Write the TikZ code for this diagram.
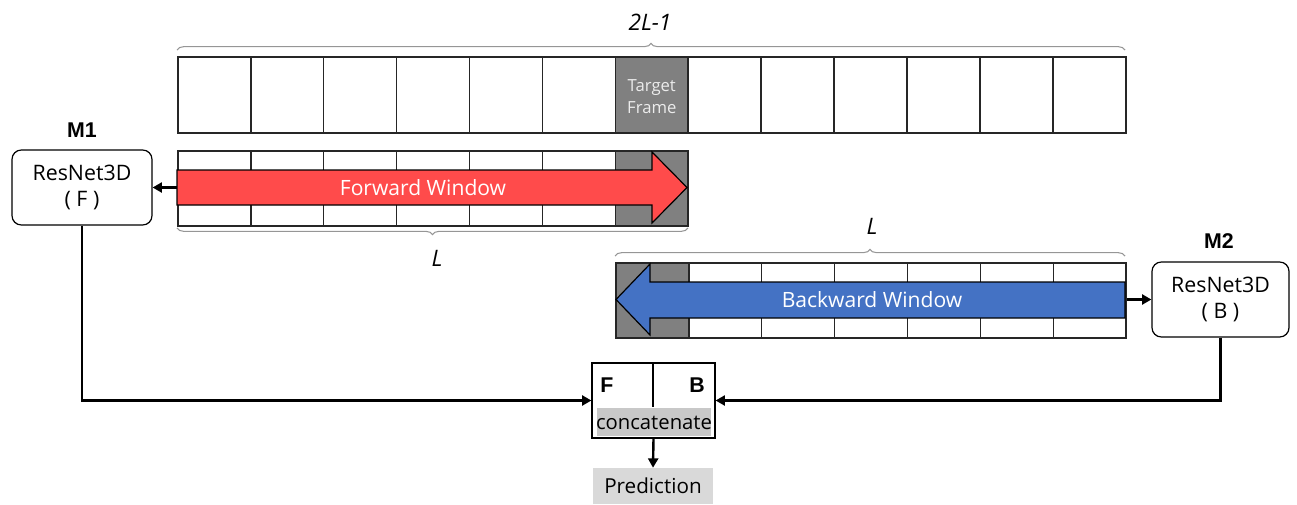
\documentclass[tikz,border=0pt]{standalone}
\usepackage{fontspec}
\setmainfont{Open Sans}
\newfontfamily\arialfont{Liberation Sans}
\usetikzlibrary{arrows.meta,decorations.pathreplacing,calc}
\definecolor{cellgray}{RGB}{128,128,128}
\definecolor{fwred}{RGB}{255,75,75}
\definecolor{bwblue}{RGB}{68,114,196}
\definecolor{bandgray}{RGB}{200,200,200}
\definecolor{predgray}{RGB}{217,217,217}
\definecolor{bracegray}{RGB}{150,150,150}
\begin{document}
\begin{tikzpicture}[x=0.75pt,y=-0.75pt,
  cell/.style={draw=black!85,line width=1.2pt,minimum width=72.92*0.75pt,minimum height=75*0.75pt,inner sep=0pt,anchor=north west},
  gcell/.style={cell,fill=cellgray},
  model/.style={draw=black,line width=0.9pt,rounded corners=7pt,minimum width=140*0.75pt,minimum height=75*0.75pt,align=center,font=\fontsize{16}{19}\selectfont,inner sep=0pt},
  conn/.style={line width=2.2pt,-{Triangle[length=7pt,width=7.5pt]}},
  bracestyle/.style={draw=bracegray,line width=0.8pt,decorate,decoration={brace,amplitude=5pt}},
  lbl/.style={font=\arialfont\fontsize{16}{19}\selectfont\bfseries},
  winlbl/.style={text=white,font=\fontsize{15.8}{18}\selectfont},
  dimlbl/.style={font=\fontsize{17}{20}\selectfont\itshape,text=black}
]
\useasboundingbox (0,0) rectangle (1297,504);
% top row
\foreach \i in {0,...,12}{
  \ifnum\i=6
    \node[gcell,minimum height=76*0.75pt] (t\i) at ({177+\i*72.92},56) {};
  \else
    \node[cell,minimum height=76*0.75pt] (t\i) at ({177+\i*72.92},56) {};
  \fi
}
\node[align=center,text=white!85!gray,font=\fontsize{12.5}{16.5}\selectfont] at ($(t6.center)+(0,2)$) {Target\\Frame};
% forward row
\foreach \i in {0,...,6}{
  \ifnum\i=6
    \node[gcell] (f\i) at ({177+\i*72.92},150) {};
  \else
    \node[cell] (f\i) at ({177+\i*72.92},150) {};
  \fi
}
% backward row
\foreach \i in {0,...,6}{
  \ifnum\i=0
    \node[gcell] (b\i) at ({615+\i*72.92},262) {};
  \else
    \node[cell] (b\i) at ({615+\i*72.92},262) {};
  \fi
}
% forward arrow
\draw[fill=fwred,draw=black,line width=0.9pt] (177,170) -- (652,170) -- (652,152) -- (687,187.5) -- (652,223) -- (652,205) -- (177,205) -- cycle;
\node[winlbl] (fwl) at (423,187.5) {Forward Window};
% backward arrow
\draw[fill=bwblue,draw=black,line width=0.9pt] (1125,282) -- (650,282) -- (650,264) -- (616,299.5) -- (650,335) -- (650,318) -- (1125,318) -- cycle;
\node[winlbl] (bwl) at (872,299.5) {Backward Window};
% braces
\draw[bracestyle] (177,50) -- (1125,50);
\node[dimlbl] (lab2l) at (650,22) {2L-1};
\draw[bracestyle] (688,228) -- (177,228);
\node[dimlbl] (labl1) at (437,258) {L};
\draw[bracestyle] (615,256) -- (1125,256);
\node[dimlbl] (labl2) at (872,226) {L};
% models
\node[model] (m1) at (82,187.5) {ResNet3D\\( F )};
\node[lbl] (m1l) at (82,130) {M1};
\node[model,minimum width=137*0.75pt] (m2) at (1220.5,299.5) {ResNet3D\\( B )};
\node[lbl] (m2l) at (1219,241) {M2};
% concat
\node[draw=black,line width=0.9pt,minimum width=123*0.75pt,minimum height=75*0.75pt,inner sep=0pt] (cat) at (653.5,400.5) {};
\fill[bandgray] (597,408) rectangle (711,436);
\node[font=\fontsize{15.2}{18}\selectfont,inner sep=0pt] (catl) at (654,423) {concatenate};
\draw[line width=0.9pt] (653,363) -- (653,407);
\node[lbl] (fl) at (607,385) {F};
\node[lbl] (bl) at (697,385) {B};
% prediction
\node[fill=predgray,minimum width=120*0.75pt,minimum height=36*0.75pt,inner sep=0pt,font=\fontsize{15.5}{18}\selectfont] (pred) at (653,486) {Prediction};
% connectors
\draw[conn] (f0.west |- 0,187.5) -- (m1.east);
\draw[conn] (b6.east |- 0,299.5) -- (m2.west);
\draw[conn] (m1.south) |- (cat.west);
\draw[conn] (m2.south) |- (cat.east);
\draw[conn,line width=1.8pt] (cat.south) -- (pred.north);
\end{tikzpicture}
\end{document}
